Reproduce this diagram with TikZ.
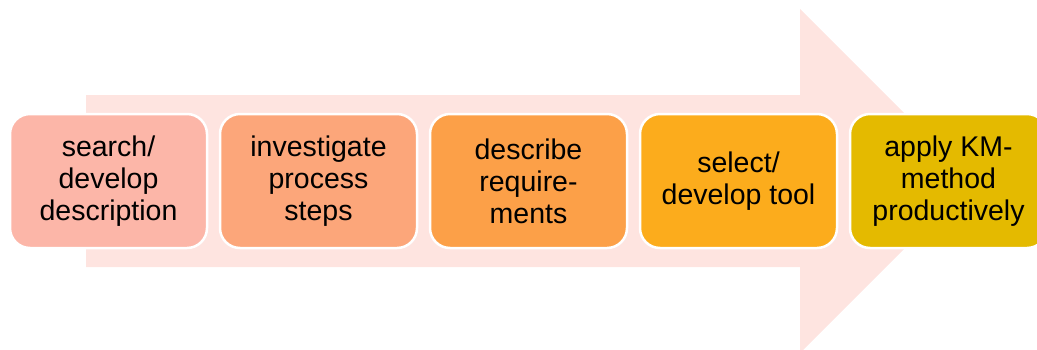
\documentclass[tikz,border=0pt]{standalone}
\usepackage{fontspec}
\setmainfont{Liberation Sans}
\usetikzlibrary{positioning}

\definecolor{arrowpink}{RGB}{254,228,224}
\definecolor{stepone}{RGB}{252,182,168}
\definecolor{steptwo}{RGB}{252,166,122}
\definecolor{stepthree}{RGB}{252,160,72}
\definecolor{stepfour}{RGB}{252,172,28}
\definecolor{stepfive}{RGB}{228,186,0}

\tikzset{
    stepbox/.style={rectangle, rounded corners=20pt, draw=white, line width=2.5pt,
        minimum width=197pt, minimum height=134pt, inner sep=0pt, align=center,
        font=\fontsize{28.5}{32}\selectfont}
}

\begin{document}
\begin{tikzpicture}[x=1pt, y=-1pt]

    \useasboundingbox (0,0) rectangle (1037,349);
    \clip (0,0) rectangle (1037,349);

    % big background arrow
    \fill[arrowpink] (86,95) -- (800,95) -- (800,9) -- (972,181) -- (800,353) -- (800,267) -- (86,267) -- cycle;

    \node[stepbox, fill=stepone] (search) at (108.5,181) {search/\\develop\\description};

    \node[stepbox, fill=steptwo] (investigate) at (318.5,181) {investigate\\process\\steps};

    \node[stepbox, fill=stepthree] (describe) at (528.5,181) {describe\\require-\\ments};

    \node[stepbox, fill=stepfour] (select) at (738.5,181) {select/\\develop tool};

    \node[stepbox, fill=stepfive] (apply) at (948.5,181) {apply KM-\\method\\productively};

\end{tikzpicture}
\end{document}
